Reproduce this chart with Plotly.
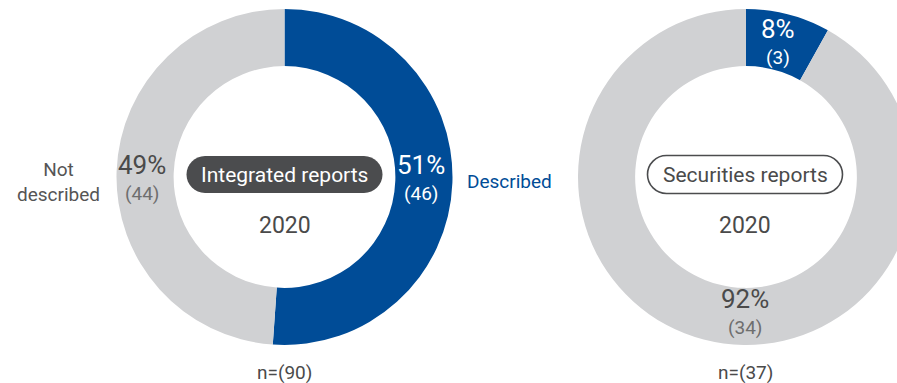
import plotly.graph_objects as go

# Survey results: whether the topic is described, by report type (2020)
categories = ["Described", "Not described"]
integrated_counts = [46, 44]
securities_counts = [3, 34]
panel_titles = ["Integrated reports", "Securities reports"]
year_label = "2020"

BLUE = "#004c97"
GREY = "#d0d1d3"
DARK = "#4b4c4e"
TEXT = "#4a4a4a"
SOFT = "#6e6e6e"

W, H = 920, 383
FONT = "Roboto"


def px(x):
    return x / W


def py(y):
    return 1 - y / H


def domain(cx, cy, r):
    return dict(x=[px(cx - r), px(cx + r)], y=[py(cy + r), py(cy - r)])


def pct(counts, i):
    return f"{round(100 * counts[i] / sum(counts))}%"


fig = go.Figure()

centres = [(284.5, 177), (746, 177)]
R = 168
for counts, (cx, cy) in zip([integrated_counts, securities_counts], centres):
    fig.add_trace(go.Pie(
        labels=categories,
        values=counts,
        marker=dict(colors=[BLUE, GREY], line=dict(width=0)),
        hole=0.66,
        sort=False,
        direction="clockwise",
        rotation=0,
        textinfo="none",
        hoverinfo="label+value+percent",
        showlegend=False,
        domain=domain(cx, cy, R),
    ))


def text(x, y, s, size, color, yanchor="middle"):
    fig.add_annotation(x=px(x), y=py(y), xref="paper", yref="paper", text=s,
                       showarrow=False, font=dict(family=FONT, size=size, color=color),
                       xanchor="center", yanchor=yanchor, borderpad=0)


def value_label(x, y, counts, i, color_pct, color_count):
    # percentage sits just above the split line y, the count just below it
    text(x, y, pct(counts, i), 26, color_pct, yanchor="bottom")
    text(x, y, f"({counts[i]})", 19, color_count, yanchor="top")


def pill(cx, cy, w, h, fill, line_color, line_width):
    r = h / 2
    k = 0.5523 * r
    a = w / 2 - r
    path = (f"M {-a},{-r} L {a},{-r} "
            f"C {a + k},{-r} {w / 2},{-k} {w / 2},0 "
            f"C {w / 2},{k} {a + k},{r} {a},{r} "
            f"L {-a},{r} "
            f"C {-a - k},{r} {-w / 2},{k} {-w / 2},0 "
            f"C {-w / 2},{-k} {-a - k},{-r} {-a},{-r} Z")
    fig.add_shape(type="path", path=path, xref="paper", yref="paper",
                  xsizemode="pixel", ysizemode="pixel",
                  xanchor=px(cx), yanchor=py(cy),
                  fillcolor=fill, line=dict(color=line_color, width=line_width),
                  layer="above")


# Integrated reports panel
pill(284.5, 174.5, 196, 37, DARK, DARK, 0)
text(284.5, 175, panel_titles[0], 21, "white")
text(284.5, 226, year_label, 23, TEXT)
value_label(421, 181, integrated_counts, 0, "white", "white")
value_label(142, 181, integrated_counts, 1, TEXT, SOFT)
text(509, 181, categories[0], 19, BLUE)
text(58, 182, "Not<br>described", 19, "#555555")
text(284, 372, f"n=({sum(integrated_counts)})", 19, TEXT)

# Securities reports panel
pill(745, 174.5, 195, 38, "white", DARK, 1.6)
text(745, 175, panel_titles[1], 21, TEXT)
text(745, 226, year_label, 23, TEXT)
value_label(778, 45, securities_counts, 0, "white", "white")
value_label(745, 315, securities_counts, 1, TEXT, SOFT)
text(745, 372, f"n=({sum(securities_counts)})", 19, TEXT)

fig.update_layout(
    width=W, height=H,
    margin=dict(l=0, r=0, t=0, b=0),
    paper_bgcolor="white",
    plot_bgcolor="white",
    font=dict(family=FONT),
)

fig.write_html(
    "out.html",
    post_script="document.body.style.margin='0';"
                "document.body.style.overflow='hidden';"
                "document.documentElement.style.overflow='hidden';",
)
